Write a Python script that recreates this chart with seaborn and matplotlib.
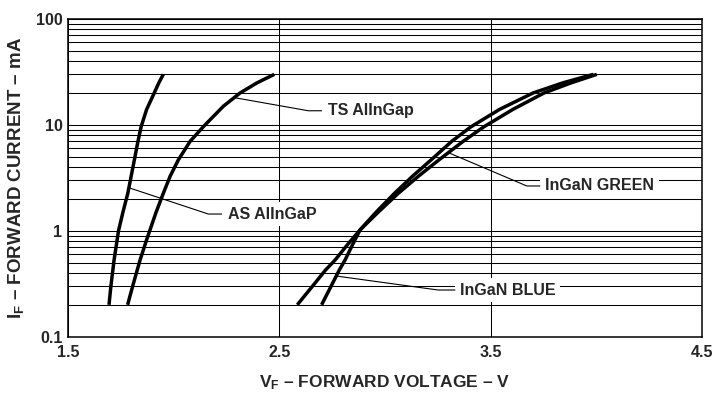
import numpy as np
import pandas as pd
import matplotlib
matplotlib.use("Agg")
import matplotlib.pyplot as plt
import seaborn as sns
from matplotlib.ticker import FixedLocator, FixedFormatter, LogLocator, NullFormatter

# Forward current (mA) versus forward voltage (V) for each LED technology
as_current = [0.2, 0.3, 0.53, 1.0, 1.5, 2.26, 3.0, 4.67, 7.0, 9.6, 14, 20, 25, 30]
as_voltage = [1.694, 1.703, 1.718, 1.739, 1.760, 1.783, 1.795, 1.814, 1.831,
              1.846, 1.872, 1.908, 1.930, 1.951]

ts_current = [0.2, 0.3, 0.53, 0.8, 1.09, 1.5, 2.26, 3.3, 4.67, 7.0, 9.6, 15, 20, 25, 30]
ts_voltage = [1.782, 1.806, 1.841, 1.870, 1.893, 1.917, 1.951, 1.984, 2.022,
              2.078, 2.140, 2.235, 2.314, 2.395, 2.476]

green_current = [0.2, 0.3, 0.427, 0.53, 0.75, 1.02, 1.5, 2.26, 3.3, 4.67, 7.0,
                 9.6, 14, 20, 25, 30]
green_voltage = [2.585, 2.657, 2.719, 2.764, 2.825, 2.882, 2.968, 3.063, 3.160,
                 3.255, 3.370, 3.468, 3.605, 3.752, 3.882, 4.002]

blue_current = [0.2, 0.3, 0.427, 0.53, 0.75, 1.02, 1.5, 2.26, 3.3, 4.67, 7.0,
                9.6, 14, 20, 25, 30]
blue_voltage = [2.700, 2.745, 2.784, 2.811, 2.848, 2.882, 2.958, 3.045, 3.132,
                3.218, 3.316, 3.407, 3.542, 3.700, 3.843, 3.986]

series_names = ["AS AlInGaP", "TS AlInGap", "InGaN GREEN", "InGaN BLUE"]
x_ticks = [1.5, 2.5, 3.5, 4.5]
x_tick_labels = ["1.5", "2.5", "3.5", "4.5"]
y_ticks = [0.1, 1, 10, 100]
y_tick_labels = ["0.1", "1", "10", "100"]

curves = {
    "AS AlInGaP": (as_current, as_voltage),
    "TS AlInGap": (ts_current, ts_voltage),
    "InGaN GREEN": (green_current, green_voltage),
    "InGaN BLUE": (blue_current, blue_voltage),
}

df = pd.concat(
    [pd.DataFrame({"series": name, "current": cur, "voltage": volt})
     for name, (cur, volt) in curves.items()],
    ignore_index=True,
)

sns.set_style("white")
plt.rcParams["font.family"] = ["Liberation Sans", "DejaVu Sans"]
plt.rcParams["font.weight"] = "bold"
plt.rcParams["mathtext.fontset"] = "custom"
plt.rcParams["mathtext.rm"] = "Liberation Sans:bold"
plt.rcParams["mathtext.bf"] = "Liberation Sans:bold"
plt.rcParams["mathtext.it"] = "Liberation Sans:bold"

fig = plt.figure(figsize=(7.13, 3.99), dpi=100)
ax = fig.add_axes([68 / 713, 1 - 336.7 / 399, (702 - 68) / 713, (336.7 - 19) / 399])

sns.lineplot(
    data=df, x="voltage", y="current", hue="series", hue_order=series_names,
    palette=["black"] * 4, sort=False, estimator=None, linewidth=2.5,
    legend=False, ax=ax, zorder=5, solid_capstyle="butt", solid_joinstyle="round",
)

ax.set_yscale("log")
ax.set_xlim(1.5, 4.5)
ax.set_ylim(0.1, 100)

ax.xaxis.set_major_locator(FixedLocator(x_ticks))
ax.xaxis.set_major_formatter(FixedFormatter(x_tick_labels))
ax.yaxis.set_major_locator(FixedLocator(y_ticks))
ax.yaxis.set_major_formatter(FixedFormatter(y_tick_labels))
ax.yaxis.set_minor_locator(LogLocator(base=10, subs=np.arange(2, 10)))
ax.yaxis.set_minor_formatter(NullFormatter())

ax.grid(which="both", axis="y", color="black", linewidth=0.75)
ax.grid(which="major", axis="x", color="black", linewidth=0.75)
ax.set_axisbelow(True)

ax.tick_params(axis="both", which="both", length=0)
ax.tick_params(axis="x", pad=6, labelsize=11.5)
ax.tick_params(axis="y", pad=4, labelsize=11.5)
for lbl in ax.get_xticklabels() + ax.get_yticklabels():
    lbl.set_fontweight("bold")

for spine in ax.spines.values():
    spine.set_visible(True)
    spine.set_color("black")
    spine.set_linewidth(1.1)

ax.set_xlabel(r"$\mathregular{V_F}$ – FORWARD VOLTAGE – V", fontsize=12.5, fontweight="bold")
ax.set_ylabel(r"$\mathregular{I_F}$ – FORWARD CURRENT – mA", fontsize=13.5, fontweight="bold")
ax.xaxis.set_label_coords(0.5, -0.115)
ax.yaxis.set_label_coords(-0.066, 0.5)

# Callouts: a leader from a point on the curve, an elbow, a short run, then the name
callouts = [
    # name, current on curve, elbow (V, I), run end V, text V
    ("AS AlInGaP", 2.55, (2.164, 1.44), 2.227, 2.255),
    ("TS AlInGap", 18.1, (2.637, 13.6), 2.700, 2.730),
    ("InGaN GREEN", 5.47, (3.671, 2.65), 3.733, 3.757),
    ("InGaN BLUE", 0.374, (3.251, 0.276), 3.331, 3.355),
]
for name, i_on, (v_elbow, i_elbow), v_run, v_text in callouts:
    cur, volt = curves[name]
    v_on = np.interp(np.log10(i_on), np.log10(cur), volt)
    ax.plot([v_on, v_elbow, v_run], [i_on, i_elbow, i_elbow],
            color="black", linewidth=0.8, zorder=4)
    ax.text(v_text, i_elbow, name, fontsize=11.5, fontweight="bold",
            ha="left", va="center", zorder=3,
            bbox=dict(facecolor="white", edgecolor="none", boxstyle="square,pad=0.3"))

fig.savefig("out.png", dpi=100)
